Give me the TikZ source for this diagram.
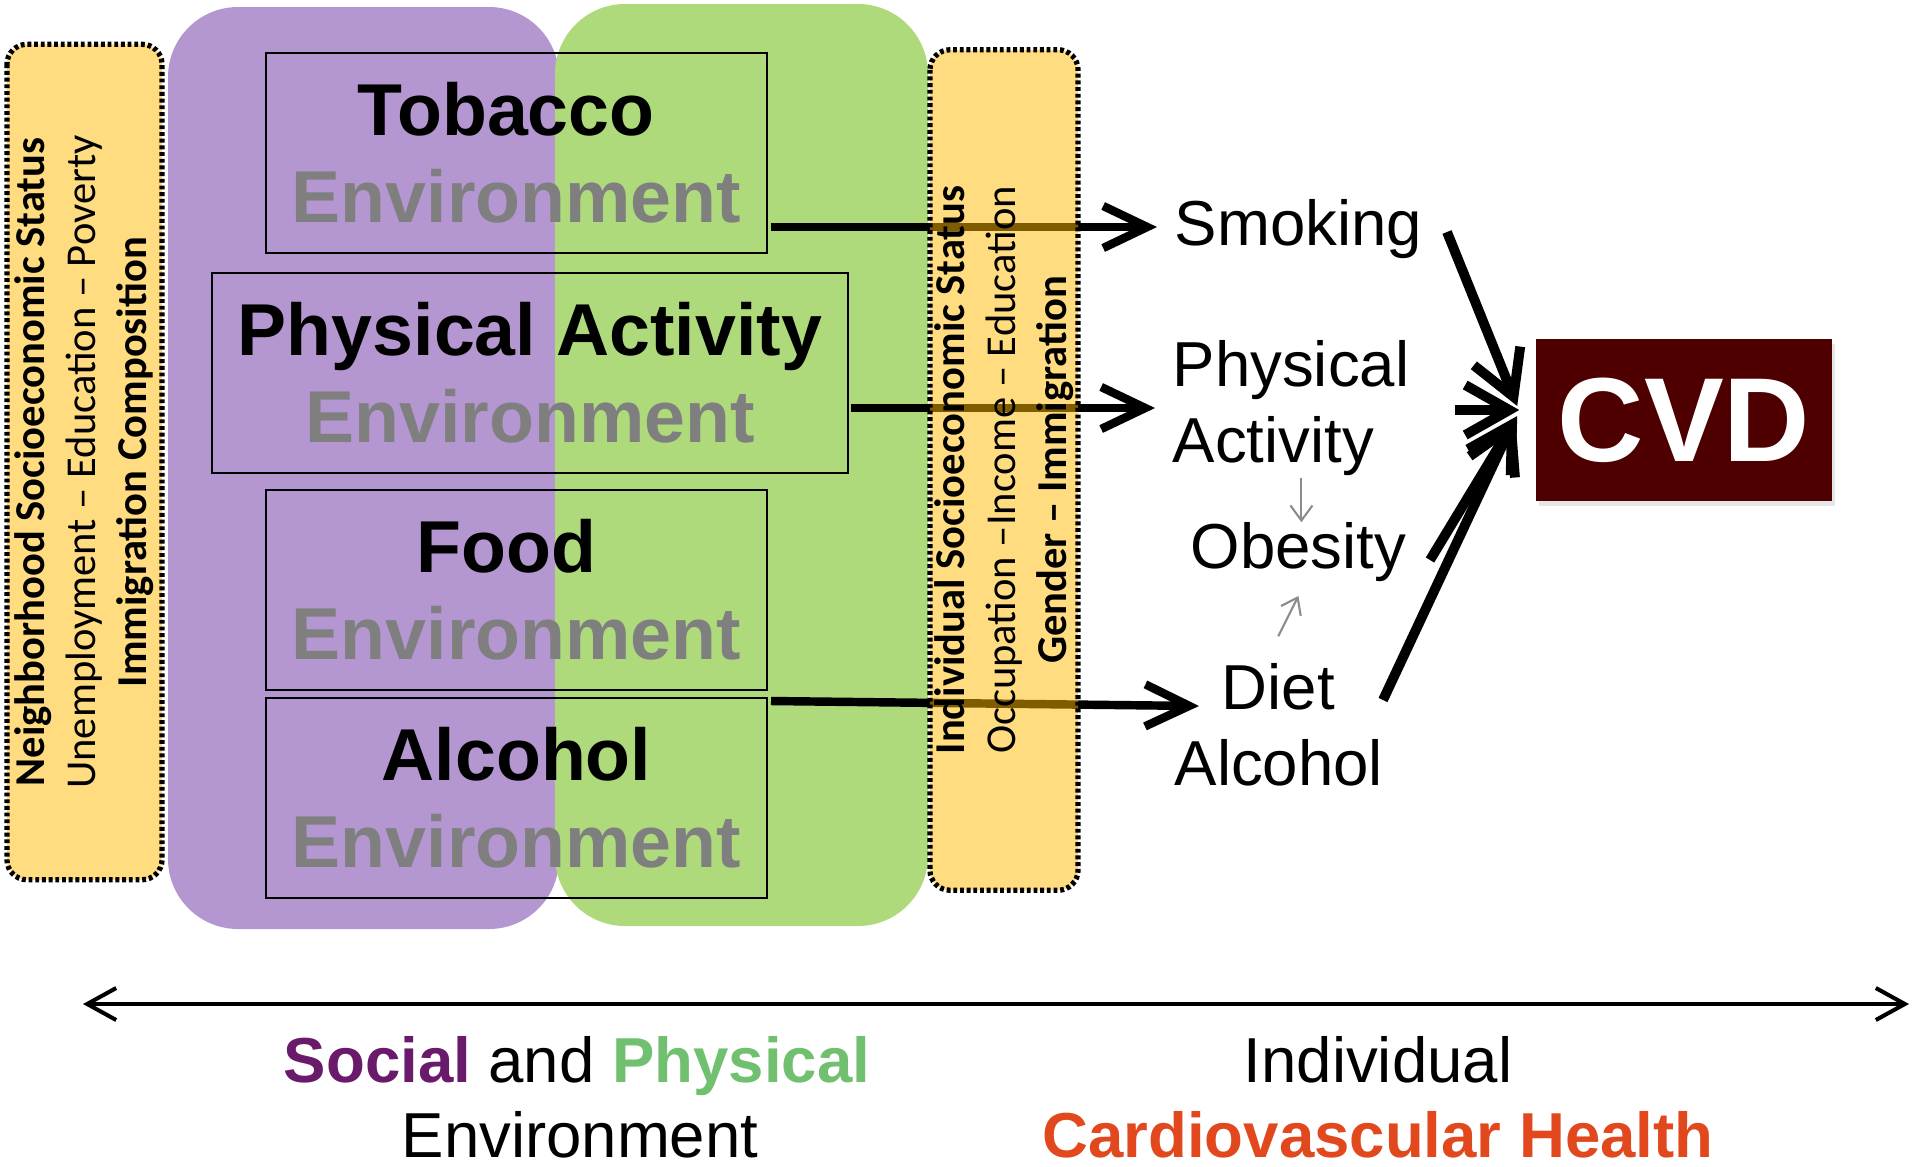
\documentclass[tikz,border=0pt]{standalone}
\usepackage{fontspec}
\setmainfont{Liberation Sans}
\newfontfamily\carl{Carlito}
\usetikzlibrary{arrows.meta,shadows}
\definecolor{purp}{RGB}{180,151,208}
\definecolor{grn}{RGB}{174,218,124}
\definecolor{yel}{RGB}{255,185,2}
\definecolor{envgray}{RGB}{127,127,127}
\definecolor{cvdred}{RGB}{78,0,0}
\definecolor{socpurple}{RGB}{106,26,106}
\definecolor{physgreen}{RGB}{112,192,112}
\definecolor{cvhred}{RGB}{226,72,30}
\definecolor{thingray}{RGB}{140,140,140}
\begin{document}
\begin{tikzpicture}[x=0.01cm,y=-0.01cm,
  envbox/.style={draw, line width=0.6pt, align=center, inner sep=0pt,
    font=\bfseries\fontsize{20.9}{24.75}\selectfont, minimum height=2cm},
  ybox/.style={draw=black, fill=yel, fill opacity=0.5, text opacity=1, draw opacity=1,
    line width=1.5pt, dash pattern=on 1.1pt off 0.8pt, rounded corners=0.2cm,
    rotate=90, align=center, inner sep=0pt,
    font=\carl\fontsize{12.1}{14.5}\selectfont},
  lbl/.style={inner sep=0pt, font=\fontsize{18.07}{21.6}\selectfont},
  bigarrow/.style={line width=2.4pt, arrows={-Straight Barb[length=4.4mm,width=4.2mm]}},
  cvdarrow/.style={line width=2.8pt, arrows={-Straight Barb[length=4.4mm,width=5mm]}},
  grayarrow/.style={draw=thingray, line width=0.6pt, arrows={-Straight Barb[length=1.5mm,width=2.2mm]}},
  axisarrow/.style={line width=1.15pt, arrows={Straight Barb[length=2.9mm,width=3.2mm]-Straight Barb[length=2.9mm,width=3.2mm]}}
]
\useasboundingbox (0,0) rectangle (1915,1166);

% background regions
\fill[purp, rounded corners=0.7cm] (168,7) rectangle (559,929);
\fill[grn, rounded corners=0.7cm] (555,4) rectangle (928,926);

% environment boxes
\node[envbox, minimum width=5.01cm] (tob) at (516.5,153) {Tobacco\hspace*{0.28em}\\\textcolor{envgray}{Environment}};
\node[envbox, minimum width=6.36cm] (pae) at (530,373) {Physical Activity\\\textcolor{envgray}{Environment}};
\node[envbox, minimum width=5.01cm] (food) at (516.5,590) {Food\hspace*{0.28em}\\\textcolor{envgray}{Environment}};
\node[envbox, minimum width=5.01cm] (alce) at (516.5,798) {Alcohol\\\textcolor{envgray}{Environment}};

% behaviour labels
\node[lbl, anchor=base west] (smk) at (1174,245) {Smoking};
\node[lbl, anchor=west, align=left] (pa) at (1172,408) {Physical\\Activity};
\node[lbl, anchor=base west] (obe) at (1190,568) {Obesity};
\node[lbl, anchor=base west] (diet) at (1221,709) {Diet};
\node[lbl, anchor=base west] (alc) at (1174,785) {Alcohol};

% arrows from environments to behaviours
\coordinate (t0) at (771,227);
\coordinate (p0) at (851,408);
\coordinate (d0) at (771,701);
\draw[bigarrow] (t0) -- ([xshift=-0.17cm]t0 -| smk.west);
\draw[bigarrow] (p0) -- ([xshift=-0.17cm]p0 -| pa.west);
\draw[bigarrow] (d0) -- ([shift={(-22,-3)}]diet.base west);

% socioeconomic boxes
\node[ybox, minimum width=8.35cm, minimum height=1.55cm] (nses) at (84.5,462)
  {{\bfseries Neighborhood Socioeconomic Status}\\Unemployment – Education – Poverty\\{\bfseries Immigration Composition}};
\node[ybox, minimum width=8.4cm, minimum height=1.48cm] (ises) at (1004,470)
  {{\bfseries Individual Socioeconomic Status}\\Occupation –Income – Education\\{\bfseries Gender – Immigration}};

% CVD
\node[fill=cvdred, text=white, font=\bfseries\fontsize{34}{40}\selectfont,
  minimum width=2.96cm, minimum height=1.62cm, inner sep=0pt,
  drop shadow={opacity=0.2, shadow xshift=0.03cm, shadow yshift=-0.05cm}] (cvd) at (1684,420) {CVD};

\coordinate (s1) at (1447,232);
\coordinate (p1) at (1455,410);
\coordinate (o1) at (1430,560);
\coordinate (d1) at (1383,700);
\draw[cvdarrow] (s1) -- ([shift={(-18,-14)}]cvd.west);
\draw[cvdarrow] (p1) -- ([shift={(-16,-10)}]cvd.west);
\draw[cvdarrow] (o1) -- ([shift={(-18,-4)}]cvd.west);
\draw[cvdarrow] (d1) -- ([shift={(-20,-2)}]cvd.west);

% thin grey arrows
\draw[grayarrow] ([xshift=0.03cm,yshift=-0.02cm]pa.south -| obe.north) -- ([xshift=0.03cm,yshift=-0.01cm]obe.north);
\draw[grayarrow] ([yshift=0.26cm]diet.north) -- ([yshift=-0.14cm]obe.south);

% bottom axis
\coordinate (axl) at (83,1004);
\coordinate (axr) at (1909,1004);
\draw[axisarrow] (axl) -- (axr);

\node[lbl, anchor=base] (bl1) at (577,1082) {\textcolor{socpurple}{\bfseries Social} and \textcolor{physgreen}{\bfseries Physical}};
\node[lbl, anchor=base] (bl2) at (580,1157) {Environment};
\node[lbl, anchor=base] (br1) at (1378,1082) {Individual};
\node[lbl, anchor=base] (br2) at (1378,1157) {\textcolor{cvhred}{\bfseries Cardiovascular Health}};
\end{tikzpicture}
\end{document}
